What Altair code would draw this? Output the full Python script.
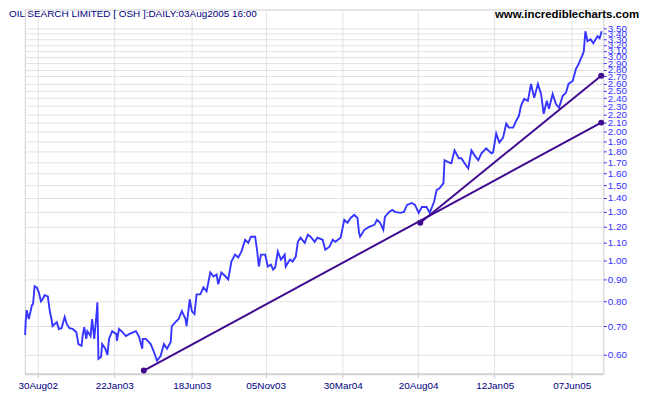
import altair as alt
import pandas as pd

# ---- data ----
price_dates = [
    "2002-08-06", "2002-08-07", "2002-08-09", "2002-08-13", "2002-08-19", "2002-08-21", "2002-08-24", "2002-08-28",
    "2002-09-01", "2002-09-05", "2002-09-08", "2002-09-12", "2002-09-18", "2002-09-22", "2002-09-25", "2002-09-27",
    "2002-10-05", "2002-10-09", "2002-10-14", "2002-10-20", "2002-10-24", "2002-10-29", "2002-11-04", "2002-11-11",
    "2002-11-15", "2002-11-21", "2002-11-23", "2002-11-26", "2002-11-30", "2002-12-02", "2002-12-08", "2002-12-11",
    "2002-12-15", "2002-12-19", "2002-12-21", "2002-12-23", "2002-12-28", "2002-12-30", "2003-01-05", "2003-01-09",
    "2003-01-12", "2003-01-18", "2003-01-26", "2003-01-27", "2003-01-31", "2003-02-06", "2003-02-13", "2003-02-19",
    "2003-03-04", "2003-03-10", "2003-03-16", "2003-03-17", "2003-03-23", "2003-04-01", "2003-04-07", "2003-04-13",
    "2003-04-20", "2003-04-26", "2003-05-02", "2003-05-09", "2003-05-11", "2003-05-18", "2003-05-24", "2003-05-30",
    "2003-06-06", "2003-06-08", "2003-06-14", "2003-06-18", "2003-06-23", "2003-06-27", "2003-07-04", "2003-07-10",
    "2003-07-16", "2003-07-23", "2003-07-29", "2003-08-04", "2003-08-07", "2003-08-13", "2003-08-21", "2003-08-26",
    "2003-09-01", "2003-09-08", "2003-09-14", "2003-09-20", "2003-09-27", "2003-10-03", "2003-10-08", "2003-10-16",
    "2003-10-20", "2003-10-23", "2003-10-27", "2003-11-04", "2003-11-09", "2003-11-15", "2003-11-19", "2003-11-23",
    "2003-11-28", "2003-12-04", "2003-12-11", "2003-12-13", "2003-12-21", "2003-12-26", "2004-01-01", "2004-01-05",
    "2004-01-10", "2004-01-18", "2004-01-24", "2004-01-29", "2004-02-06", "2004-02-11", "2004-02-21", "2004-02-26",
    "2004-03-05", "2004-03-11", "2004-03-16", "2004-03-26", "2004-04-02", "2004-04-08", "2004-04-14", "2004-04-21",
    "2004-04-27", "2004-04-30", "2004-05-02", "2004-05-10", "2004-05-19", "2004-05-29", "2004-06-03", "2004-06-09",
    "2004-06-15", "2004-06-18", "2004-06-26", "2004-07-02", "2004-07-07", "2004-07-17", "2004-07-24", "2004-07-30",
    "2004-08-08", "2004-08-14", "2004-08-21", "2004-08-27", "2004-09-05", "2004-09-11", "2004-09-19", "2004-09-24",
    "2004-09-30", "2004-10-07", "2004-10-09", "2004-10-17", "2004-10-22", "2004-10-28", "2004-11-05", "2004-11-10",
    "2004-11-16", "2004-11-23", "2004-11-29", "2004-12-05", "2004-12-12", "2004-12-18", "2004-12-27", "2005-01-06",
    "2005-01-09", "2005-01-15", "2005-01-21", "2005-01-28", "2005-02-03", "2005-02-08", "2005-02-16", "2005-02-22",
    "2005-02-27", "2005-03-03", "2005-03-09", "2005-03-16", "2005-03-22", "2005-03-28", "2005-04-04", "2005-04-10",
    "2005-04-15", "2005-04-21", "2005-04-25", "2005-05-02", "2005-05-08", "2005-05-14", "2005-05-21", "2005-05-27",
    "2005-06-01", "2005-06-09", "2005-06-15", "2005-06-20", "2005-06-28", "2005-06-30", "2005-07-03", "2005-07-07",
    "2005-07-13", "2005-07-18", "2005-07-26", "2005-07-30", "2005-08-03",
]
price_values = [
    0.668, 0.716, 0.764, 0.728, 0.785, 0.789, 0.869, 0.864,
    0.841, 0.801, 0.810, 0.828, 0.823, 0.756, 0.728, 0.701,
    0.716, 0.690, 0.693, 0.736, 0.708, 0.693, 0.690, 0.679,
    0.636, 0.630, 0.664, 0.697, 0.654, 0.682, 0.664, 0.728,
    0.654, 0.740, 0.797, 0.587, 0.594, 0.636, 0.620, 0.600,
    0.654, 0.682, 0.671, 0.647, 0.690, 0.679, 0.664, 0.671,
    0.682, 0.661, 0.620, 0.654, 0.654, 0.636, 0.610, 0.581,
    0.597, 0.636, 0.620, 0.643, 0.701, 0.716, 0.728, 0.760,
    0.728, 0.701, 0.810, 0.760, 0.748, 0.832, 0.832, 0.864,
    0.846, 0.936, 0.916, 0.926, 0.878, 0.936, 0.916, 0.902,
    0.993, 1.031, 1.015, 1.048, 1.117, 1.099, 1.136, 1.136,
    1.048, 0.967, 1.031, 1.031, 0.967, 0.977, 0.951, 0.962,
    1.048, 1.004, 1.031, 0.967, 1.004, 0.993, 1.020, 1.105,
    1.130, 1.099, 1.148, 1.136, 1.105, 1.130, 1.117, 1.059,
    1.076, 1.117, 1.105, 1.130, 1.244, 1.224, 1.257, 1.278,
    1.257, 1.160, 1.136, 1.179, 1.198, 1.211, 1.244, 1.224,
    1.179, 1.264, 1.299, 1.313, 1.299, 1.292, 1.299, 1.349,
    1.363, 1.349, 1.292, 1.334, 1.334, 1.292, 1.370, 1.461,
    1.477, 1.517, 1.717, 1.698, 1.689, 1.811, 1.735, 1.735,
    1.689, 1.643, 1.811, 1.763, 1.717, 1.782, 1.830, 1.782,
    1.791, 1.983, 1.890, 1.941, 2.092, 2.048, 2.048, 2.126,
    2.183, 2.304, 2.392, 2.367, 2.593, 2.405, 2.593, 2.457,
    2.207, 2.367, 2.267, 2.457, 2.329, 2.280, 2.431, 2.470,
    2.593, 2.635, 2.809, 2.885, 3.043, 3.092, 3.446, 3.266,
    3.302, 3.231, 3.355, 3.319, 3.446,
]

trend_names = ["A", "A", "B", "B"]
trend_dates = ["2003-03-19", "2005-08-02", "2004-08-24", "2005-08-02"]
trend_values = [0.551, 2.104, 1.225, 2.71]

dot_dates = ["2003-03-19", "2004-08-24", "2005-08-02", "2005-08-02"]
dot_values = [0.551, 1.225, 2.104, 2.71]

x_ticks = [(2002, 8, 30), (2003, 1, 22), (2003, 6, 18), (2003, 11, 5),
           (2004, 3, 30), (2004, 8, 20), (2005, 1, 12), (2005, 6, 7)]
y_ticks = [0.60, 0.70, 0.80, 0.90, 1.00, 1.10, 1.20, 1.30, 1.40, 1.50,
           1.60, 1.70, 1.80, 1.90, 2.00, 2.10, 2.20, 2.30, 2.40, 2.50,
           2.60, 2.70, 2.80, 2.90, 3.00, 3.10, 3.20, 3.30, 3.40, 3.50]

title_text = "OIL SEARCH LIMITED [ OSH ]:DAILY:03Aug2005 16:00"
site_text = "www.incrediblecharts.com"

# ---- tables ----
price_df = pd.DataFrame({"date": price_dates, "value": price_values})
trend_df = pd.DataFrame({"date": trend_dates, "value": trend_values, "line": trend_names})
dot_df = pd.DataFrame({"date": dot_dates, "value": dot_values})

FONT = "Liberation Sans"
x_scale = alt.Scale(type="utc",
                    domain=[alt.DateTime(year=2002, month=8, date=5, hours=12, utc=True),
                            alt.DateTime(year=2005, month=8, date=6, utc=True)])
y_scale = alt.Scale(type="log", domain=[0.542, 3.877], nice=False)

x_enc = alt.X("date:T", scale=x_scale, title=None,
              axis=alt.Axis(values=[alt.DateTime(year=a, month=b, date=c, utc=True) for a, b, c in x_ticks],
                            format="%d%b%y", labelColor="#000080", labelFontSize=10, labelFont=FONT,
                            tickColor="#c8c8c8", tickSize=4, domainColor="#d4d4d4", domainWidth=2,
                            gridColor="#e2e2e2", labelPadding=3, labelOverlap=False, labelFlush=False))
y_enc = alt.Y("value:Q", scale=y_scale, title=None,
              axis=alt.Axis(orient="right", values=y_ticks, format=".2f", labelColor="#3333ff",
                            labelFontSize=10, labelFont=FONT, tickColor="#3333ff", tickSize=3,
                            labelPadding=1, domain=False, gridColor="#e2e2e2", labelOverlap=False,
                            labelBound=False, labelFlush=False))

price = alt.Chart(price_df).mark_line(color="#3535ff", strokeWidth=1.9).encode(x=x_enc, y=y_enc)
trend = alt.Chart(trend_df).mark_line(color="#400a90", strokeWidth=2).encode(
    x="date:T", y="value:Q", detail="line:N")
dots = alt.Chart(dot_df).mark_circle(color="#400a90", size=36, opacity=1).encode(x="date:T", y="value:Q")

title = alt.Chart(pd.DataFrame({"t": [title_text]})).mark_text(
    align="left", baseline="middle", font=FONT, fontSize=10, color="#000080").encode(
    text="t:N", x=alt.value(-16), y=alt.value(5))
site = alt.Chart(pd.DataFrame({"t": [site_text]})).mark_text(
    align="right", baseline="middle", font=FONT, fontSize=11.5, fontWeight="bold", color="#000000").encode(
    text="t:N", x=alt.value(619), y=alt.value(6))

chart = alt.layer(price, trend, dots, title, site).properties(
    width=583, height=367,
    autosize=alt.AutoSizeParams(type="none"),
    padding={"left": 17, "top": 0, "right": 40, "bottom": 18},
    background="white",
).configure_view(stroke="#cccccc", strokeWidth=1)

chart.save("out.html", embed_options={"renderer": "svg", "actions": False})
